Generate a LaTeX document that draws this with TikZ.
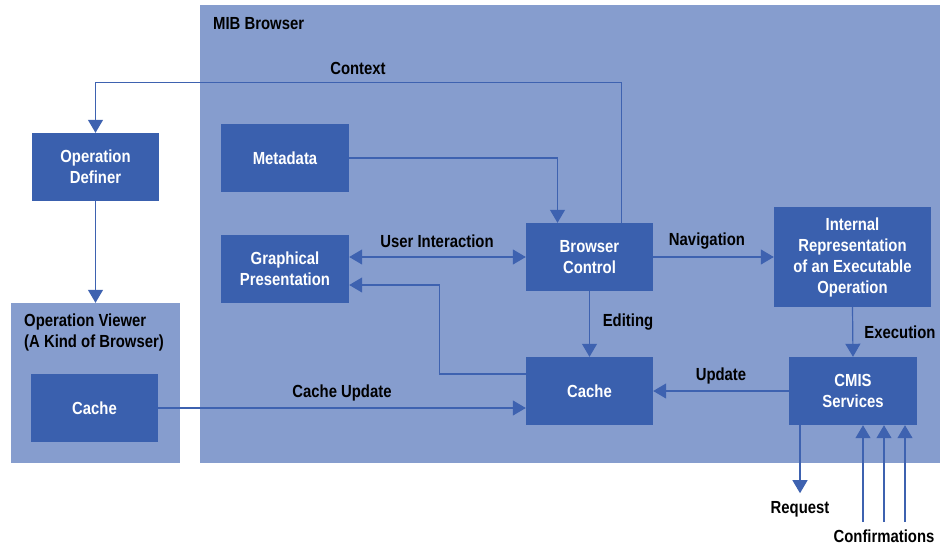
\documentclass[tikz,border=0pt]{standalone}
\usepackage{fontspec}
\setmainfont{Liberation Sans}[FakeStretch=0.85]
\usetikzlibrary{arrows.meta,calc}
\definecolor{panelblue}{RGB}{134,157,206}
\definecolor{boxblue}{RGB}{58,96,174}
\definecolor{wireblue}{RGB}{62,98,176}

\begin{document}
\begin{tikzpicture}[x=1pt,y=-1pt,
  txt/.style={font=\bfseries\fontsize{17.5}{21}\selectfont, inner sep=0pt, align=center},
  panel/.style={fill=panelblue, inner sep=0pt},
  block/.style={txt, fill=boxblue, text=white},
  lbl/.style={txt, text=black},
  tip/.tip={Triangle[length=13pt,width=15pt]},
  wire/.style={draw=wireblue, line width=1.2pt, -tip},
  dwire/.style={draw=wireblue, line width=1.2pt, tip-tip}]

\useasboundingbox (0,0) rectangle (940,546);

% enclosing panels
\node[panel, minimum width=740pt, minimum height=458pt] (mib) at (570,234) {};
\node[panel, minimum width=169pt, minimum height=160pt] (viewer) at (95.5,383) {};
\node[lbl, anchor=west] (mibtitle) at (213,24) {MIB Browser};
\node[lbl, anchor=west, align=left] (viewertitle) at (24,332.5) {Operation Viewer\\(A Kind of Browser)};

% blocks
\node[block, minimum width=127pt, minimum height=68pt] (opdef) at (95.5,167) {Operation\\Definer};
\node[block, minimum width=128pt, minimum height=68pt] (meta) at (285,158) {Metadata};
\node[block, minimum width=128pt, minimum height=68pt] (graph) at (285,269) {Graphical\\Presentation};
\node[block, minimum width=127pt, minimum height=68pt] (bctl) at (589.5,257) {Browser\\Control};
\node[block, minimum width=157pt, minimum height=100pt] (irep) at (852.5,257) {Internal\\Representation\\of an Executable\\Operation};
\node[block, minimum width=127pt, minimum height=68pt] (cache) at (589.5,391) {Cache};
\node[block, minimum width=128pt, minimum height=68pt] (cmis) at (853,391) {CMIS\\Services};
\node[block, minimum width=127pt, minimum height=68pt] (vcache) at (94.5,408) {Cache};

% connectors
\draw[wire] ([xshift=32pt]bctl.north) -- ++(0,-140) -| (opdef.north);
\draw[wire] (meta.east) -| ([xshift=-32pt]bctl.north);
\draw[dwire] (bctl.west -| graph.east) -- (bctl.west);
\draw[wire] (bctl.east) -- (irep.west);
\draw[wire] ([yshift=17pt]cache.west) -- ++(-86,0) |- ([yshift=-16pt]graph.east);
\draw[wire] (bctl.south) -- (cache.north);
\draw[wire] (irep.south) -- (cmis.north);
\draw[wire] (cmis.west) -- (cache.east);
\draw[wire] (vcache.east) -- (vcache.east -| cache.west);
\draw[wire] (opdef.south) -- (viewer.north);
\draw[wire] ([xshift=-53pt]cmis.south) -- ++(0,68);
\foreach \dx in {10,31,52}
  \draw[wire] ([xshift=\dx pt,yshift=-97pt]cmis.south) -- ([xshift=\dx pt]cmis.south);

% connector labels
\node[lbl] (lcontext) at (358,68) {Context};
\node[lbl] (luser) at (437,241) {User Interaction};
\node[lbl] (lnav) at (707,241) {Navigation};
\node[lbl] (ledit) at (628,322) {Editing};
\node[lbl] (lexec) at (900,332) {Execution};
\node[lbl] (lupd) at (721,376) {Update};
\node[lbl] (lcupd) at (342,393) {Cache Update};
\node[lbl] (lreq) at (800,509) {Request};
\node[lbl] (lconf) at (884,536) {Confirmations};
\end{tikzpicture}
\end{document}
